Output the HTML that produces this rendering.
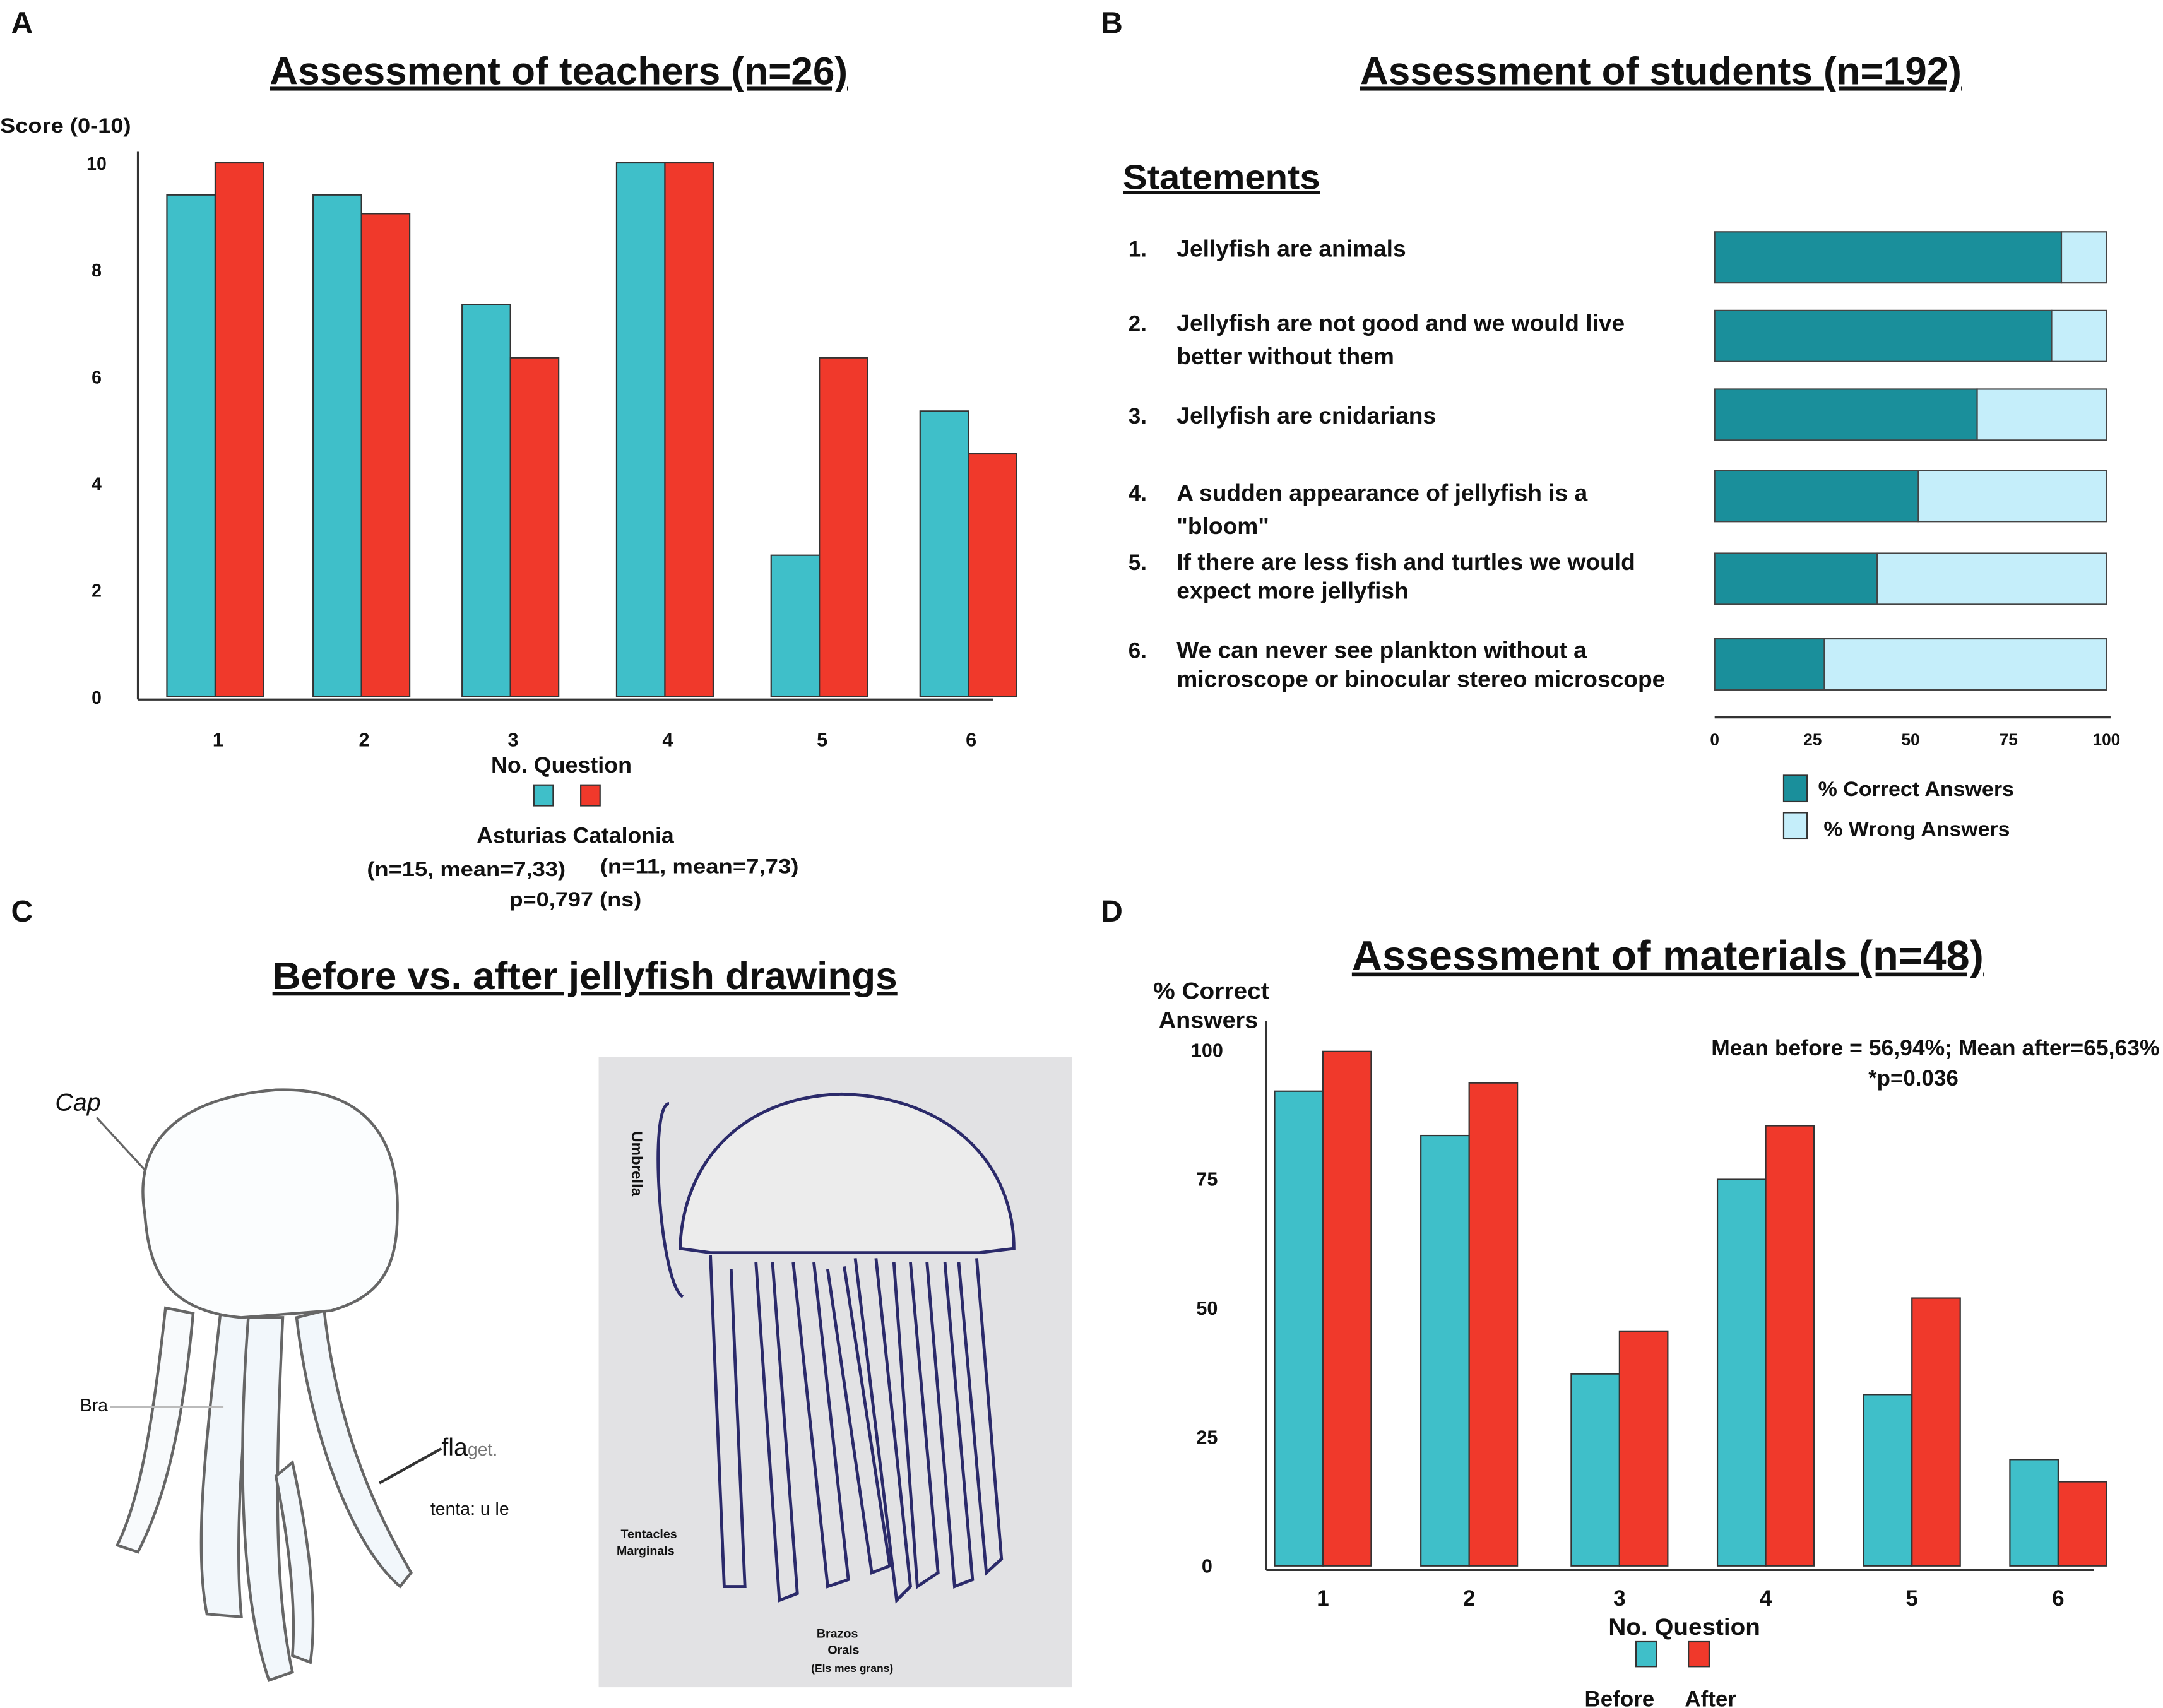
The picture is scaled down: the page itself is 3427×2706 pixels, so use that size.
<!DOCTYPE html>
<html><head><meta charset="utf-8"><style>
html,body{margin:0;padding:0;background:#fff;}
svg{display:block;}
text{font-family:"Liberation Sans",Arial,sans-serif;font-weight:bold;fill:#111;}
</style></head><body>
<svg id="fig" width="3427" height="2706" viewBox="0 0 1568 1238" xmlns="http://www.w3.org/2000/svg">
<rect x="0" y="0" width="1568" height="1238" fill="#fff"/>
<text x="8" y="24" font-size="22">A</text>
<text x="798" y="24" font-size="22">B</text>
<text x="8" y="668" font-size="22">C</text>
<text x="798" y="668" font-size="22">D</text>

<!-- Panel A -->
<g id="pa">
<text x="405" y="61" font-size="28" text-anchor="middle" text-decoration="underline" textLength="419" lengthAdjust="spacingAndGlyphs">Assessment of teachers (n=26)</text>
<text x="0" y="96" font-size="15" textLength="95" lengthAdjust="spacingAndGlyphs">Score (0-10)</text>
<line x1="100" y1="110" x2="100" y2="507" stroke="#333" stroke-width="1.5"/>
<line x1="100" y1="507" x2="720" y2="507" stroke="#333" stroke-width="1.5"/>
<text x="407" y="560" font-size="16" text-anchor="middle" textLength="102" lengthAdjust="spacingAndGlyphs">No. Question</text>
<rect x="387" y="569" width="14" height="15" fill="#3fbfc9" stroke="#333"/>
<rect x="421" y="569" width="14" height="15" fill="#f0392b" stroke="#333"/>
<text x="417" y="611" font-size="16" text-anchor="middle" textLength="143" lengthAdjust="spacingAndGlyphs">Asturias Catalonia</text>
<text x="338" y="635" font-size="15" text-anchor="middle" textLength="144" lengthAdjust="spacingAndGlyphs">(n=15, mean=7,33)</text>
<text x="507" y="633" font-size="15" text-anchor="middle" textLength="144" lengthAdjust="spacingAndGlyphs">(n=11, mean=7,73)</text>
<text x="417" y="657" font-size="15" text-anchor="middle" textLength="96" lengthAdjust="spacingAndGlyphs">p=0,797 (ns)</text>
</g>

<!-- Panel B -->
<g id="pb">
<text x="1204" y="61" font-size="28" text-anchor="middle" text-decoration="underline" textLength="436" lengthAdjust="spacingAndGlyphs">Assessment of students (n=192)</text>
<text x="814" y="137" font-size="25" text-decoration="underline" textLength="143" lengthAdjust="spacingAndGlyphs">Statements</text>
<line x1="1243" y1="520" x2="1530" y2="520" stroke="#333" stroke-width="1.5"/>
<rect x="1293" y="562" width="17" height="19" fill="#1a8f9b" stroke="#333"/>
<text x="1318" y="577" font-size="15" textLength="142" lengthAdjust="spacingAndGlyphs">% Correct Answers</text>
<rect x="1293" y="589" width="17" height="19" fill="#c5eefa" stroke="#333"/>
<text x="1322" y="606" font-size="15" textLength="135" lengthAdjust="spacingAndGlyphs">% Wrong Answers</text>
</g>

<!-- Panel C -->
<g id="pc">
<text x="424" y="717" font-size="28" text-anchor="middle" text-decoration="underline" textLength="453" lengthAdjust="spacingAndGlyphs">Before vs. after jellyfish drawings</text>
<g stroke="#666" stroke-width="2" fill="#f2f7fb">
<path d="M160,950 C150,1040 140,1120 150,1170 L175,1172 C170,1120 175,1040 185,955 Z"/>
<path d="M235,950 C245,1040 275,1100 298,1140 L290,1150 C255,1120 225,1040 215,955 Z"/>
<path d="M180,955 C172,1060 175,1160 195,1218 L212,1212 C198,1150 200,1060 205,955 Z"/>
<path d="M120,948 C110,1040 100,1090 85,1120 L100,1125 C118,1090 132,1040 140,952 Z" fill="#f8fafc"/>
<path d="M212,1060 C225,1120 230,1170 225,1205 L212,1200 C215,1160 208,1110 200,1070 Z"/>
<path d="M105,880 C95,820 140,795 200,790 C260,788 290,820 288,880 C288,920 275,940 240,950 L175,955 C120,950 108,920 105,880 Z" fill="#fbfdfe"/>
</g>
<text x="40" y="805" font-size="18" style="font-weight:normal;font-style:italic" fill="#666">Cap</text>
<line x1="70" y1="810" x2="105" y2="848" stroke="#666" stroke-width="1.5"/>
<text x="320" y="1055" font-size="18" style="font-weight:normal">fla<tspan font-size="13" fill="#777">get.</tspan></text>
<line x1="320" y1="1050" x2="275" y2="1075" stroke="#333" stroke-width="2"/>
<text x="312" y="1098" font-size="13" style="font-weight:normal" fill="#777">tenta: u le</text>
<text x="58" y="1023" font-size="13" style="font-weight:normal" fill="#bbb">Bra</text>
<line x1="80" y1="1020" x2="162" y2="1020" stroke="#bbb" stroke-width="1.5"/>
<rect x="434" y="766" width="343" height="457" fill="#e2e2e4"/>
<g fill="none" stroke="#2b2a6a" stroke-width="2.2">
<path d="M493,905 C495,840 540,795 610,793 C690,795 735,845 735,905 L710,908 L515,908 Z" fill="#ececec"/>
<path d="M515,910 L525,1150 L540,1150 L530,920 M548,915 L565,1160 L578,1155 L560,915 M575,915 L600,1150 L615,1145 L590,915 M600,920 L632,1140 L645,1135 L612,918 M620,912 L650,1160 L660,1150 L635,912 M648,915 L665,1150 L680,1140 L660,915 M672,915 L692,1150 L705,1145 L685,915 M695,915 L715,1140 L726,1130 L708,912"/>
<path d="M485,800 C470,800 478,930 495,940"/>
</g>
<text x="450" y="1115" font-size="9" fill="#333">Tentacles</text>
<text x="447" y="1127" font-size="9" fill="#333">Marginals</text>
<text x="592" y="1187" font-size="9" fill="#333">Brazos</text>
<text x="600" y="1199" font-size="9" fill="#333">Orals</text>
<text x="588" y="1212" font-size="8" fill="#333">(Els mes grans)</text>
<text x="458" y="820" font-size="11" fill="#333" transform="rotate(90 458 820)">Umbrella</text>
</g>

<!-- Panel D -->
<g id="pd">
<text x="1209" y="703" font-size="30" text-anchor="middle" text-decoration="underline" textLength="458" lengthAdjust="spacingAndGlyphs">Assessment of materials (n=48)</text>
<text x="878" y="724" font-size="17" text-anchor="middle" textLength="84" lengthAdjust="spacingAndGlyphs">% Correct</text>
<text x="876" y="745" font-size="17" text-anchor="middle" textLength="72" lengthAdjust="spacingAndGlyphs">Answers</text>
<line x1="918" y1="740" x2="918" y2="1138" stroke="#333" stroke-width="1.5"/>
<line x1="918" y1="1138" x2="1518" y2="1138" stroke="#333" stroke-width="1.5"/>
<text x="1403" y="765" font-size="16" text-anchor="middle" textLength="325" lengthAdjust="spacingAndGlyphs">Mean before = 56,94%; Mean after=65,63%</text>
<text x="1387" y="787" font-size="16" text-anchor="middle">*p=0.036</text>
<text x="1221" y="1185" font-size="17" text-anchor="middle" textLength="110" lengthAdjust="spacingAndGlyphs">No. Question</text>
<rect x="1186" y="1190" width="15" height="18" fill="#3fbfc9" stroke="#333"/>
<rect x="1224" y="1190" width="15" height="18" fill="#f0392b" stroke="#333"/>
<text x="1174" y="1237" font-size="16" text-anchor="middle">Before</text>
<text x="1240" y="1237" font-size="16" text-anchor="middle">After</text>
</g>
</svg>
<script>
const NS="http://www.w3.org/2000/svg";
// Panel A data
const teacherQuestions=["1","2","3","4","5","6"];
const asturiasScores=[9.4,9.4,7.35,10,2.65,5.35];
const cataloniaScores=[10,9.05,6.35,10,6.35,4.55];
const teacherTicks=[0,2,4,6,8,10];
// Panel B data
const statementLabels=[
 ["Jellyfish are animals"],
 ["Jellyfish are not good and we would live","better without them"],
 ["Jellyfish are cnidarians"],
 ["A sudden appearance of jellyfish is a","\"bloom\""],
 ["If there are less fish and turtles we would","expect more jellyfish"],
 ["We can never see plankton without a","microscope or binocular stereo microscope"]];
const correctPct=[88.5,86,67,52,41.5,28];
const pctTicks=[0,25,50,75,100];
// Panel D data
const materialQuestions=["1","2","3","4","5","6"];
const beforePct=[92,83.4,37.2,74.9,33.2,20.6];
const afterPct=[99.7,93.6,45.5,85.3,51.9,16.3];
const materialTicks=[0,25,50,75,100];

function mk(parent,tag,attrs){const e=document.createElementNS(NS,tag);for(const k in attrs)e.setAttribute(k,attrs[k]);parent.appendChild(e);return e;}

// Panel A
const ga=document.getElementById('pa');
const ayA=v=>505-v*38.7;
const aCenters=[158,264,372,484,596,704];
teacherTicks.forEach(t=>{const e=mk(ga,'text',{x:70,y:ayA(t)+5,'font-size':13,'text-anchor':'middle'});e.textContent=t;

});
teacherQuestions.forEach((q,i)=>{
 const c=aCenters[i];
 const r1=mk(ga,'rect',{x:c-37,y:ayA(asturiasScores[i]),width:35,height:ayA(0)-ayA(asturiasScores[i]),fill:'#3fbfc9',stroke:'#333','stroke-width':1});
 
 
 const r2=mk(ga,'rect',{x:c-2,y:ayA(cataloniaScores[i]),width:35,height:ayA(0)-ayA(cataloniaScores[i]),fill:'#f0392b',stroke:'#333','stroke-width':1});
 
 
 const t=mk(ga,'text',{x:c,y:541,'font-size':14,'text-anchor':'middle'});t.textContent=q;
 
 
});

// Panel B
const gb=document.getElementById('pb');
const bx=v=>1243+v*2.84;
const bRowY=[168,225,282,341,401,463];
const textY=[186,240,307,363,413,477];
const lineGap=[0,24,0,24,21,21];
statementLabels.forEach((lines,i)=>{
 const y=bRowY[i];
 const n=mk(gb,'text',{x:818,y:textY[i],'font-size':16});n.textContent=(i+1)+'.';
 
 
 lines.forEach((l,j)=>{const t=mk(gb,'text',{x:853,y:textY[i]+j*lineGap[i],'font-size':17});t.textContent=l;
 
 });
 const r1=mk(gb,'rect',{x:bx(0),y:y,width:bx(correctPct[i])-bx(0),height:37,fill:'#1a8f9b',stroke:'#444','stroke-width':1});
 
 
 const r2=mk(gb,'rect',{x:bx(correctPct[i]),y:y,width:bx(100)-bx(correctPct[i]),height:37,fill:'#c5eefa',stroke:'#444','stroke-width':1});
 
 
});
pctTicks.forEach(t=>{const e=mk(gb,'text',{x:bx(t),y:540,'font-size':12,'text-anchor':'middle'});e.textContent=t;

});

// Panel D
const gd=document.getElementById('pd');
const ayD=v=>1135-v*3.74;
const dCenters=[959,1065,1174,1280,1386,1492];
materialTicks.forEach(t=>{const e=mk(gd,'text',{x:875,y:ayD(t)+5,'font-size':14,'text-anchor':'middle'});e.textContent=t;

});
materialQuestions.forEach((q,i)=>{
 const c=dCenters[i];
 const r1=mk(gd,'rect',{x:c-35,y:ayD(beforePct[i]),width:35,height:ayD(0)-ayD(beforePct[i]),fill:'#3fbfc9',stroke:'#333','stroke-width':1});
 
 
 const r2=mk(gd,'rect',{x:c,y:ayD(afterPct[i]),width:35,height:ayD(0)-ayD(afterPct[i]),fill:'#f0392b',stroke:'#333','stroke-width':1});
 
 
 const t=mk(gd,'text',{x:c,y:1164,'font-size':16,'text-anchor':'middle'});t.textContent=q;
 
 
});
</script>
</body></html>
